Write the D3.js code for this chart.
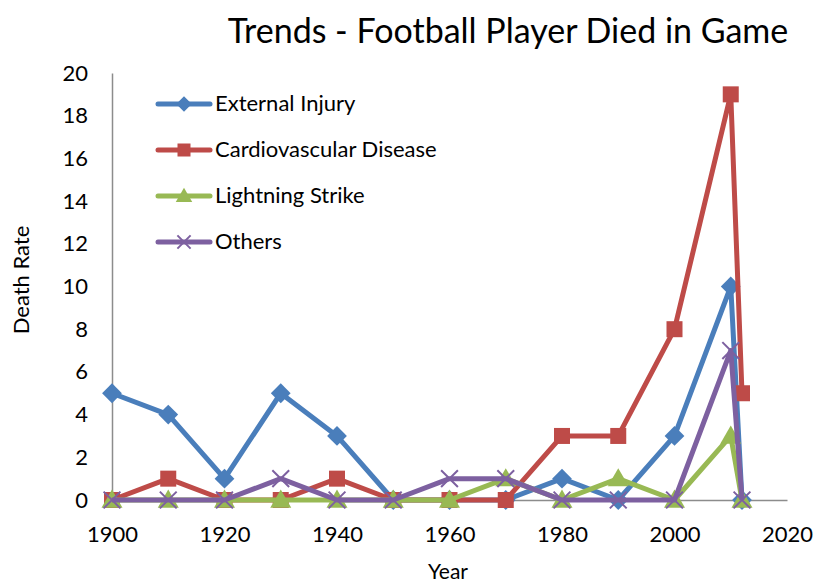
<!DOCTYPE html>
<html>
<head>
<meta charset="utf-8">
<script src="https://cdn.jsdelivr.net/npm/d3@7"></script>
<style>
  body { margin: 0; background: #fff; }
  svg text { font-family: Lato, "Open Sans", sans-serif; fill: #000; }
</style>
</head>
<body>
<svg id="chart" width="816" height="584"></svg>
<script>
// data
const years = [1900, 1910, 1920, 1930, 1940, 1950, 1960, 1970, 1980, 1990, 2000, 2010, 2012];
const externalInjury = [5, 4, 1, 5, 3, 0, 0, 0, 1, 0, 3, 10, 0];
const cardiovascular = [0, 1, 0, 0, 1, 0, 0, 0, 3, 3, 8, 19, 5];
const lightning = [0, 0, 0, 0, 0, 0, 0, 1, 0, 1, 0, 3, 0];
const others = [0, 0, 0, 1, 0, 0, 1, 1, 0, 0, 0, 7, 0];
const seriesNames = ["External Injury", "Cardiovascular Disease", "Lightning Strike", "Others"];
const xTicks = [1900, 1920, 1940, 1960, 1980, 2000, 2020];
const yTicks = [0, 2, 4, 6, 8, 10, 12, 14, 16, 18, 20];

const series = [
  {name: seriesNames[0], values: externalInjury, color: "#4a7ebb", marker: "diamond"},
  {name: seriesNames[1], values: cardiovascular, color: "#be4b48", marker: "square"},
  {name: seriesNames[2], values: lightning, color: "#98b954", marker: "triangle"},
  {name: seriesNames[3], values: others, color: "#7d60a0", marker: "x"}
];

const svg = d3.select("#chart");
const x = d3.scaleLinear().domain([1900, 2020]).range([112, 787]);
const y = d3.scaleLinear().domain([0, 20]).range([500, 73]);

// axes
const xAxis = svg.append("g").attr("transform", `translate(0,${y(0)})`)
  .call(d3.axisBottom(x).tickValues(xTicks).tickFormat(d3.format("d")).tickSize(0).tickPadding(26));
const yAxis = svg.append("g").attr("transform", `translate(${x(1900)},0)`)
  .call(d3.axisLeft(y).tickValues(yTicks).tickSize(0).tickPadding(24));
[xAxis, yAxis].forEach(a => {
  a.select(".domain").attr("stroke", "#8c8c8c").attr("stroke-width", 1.5);
  a.selectAll("text").style("font-size", "22px");
});

svg.append("text").attr("x", 508).attr("y", 43).attr("text-anchor", "middle")
  .style("font-size", "34px").text("Trends - Football Player Died in Game");
svg.append("text").attr("x", 448).attr("y", 579).attr("text-anchor", "middle")
  .style("font-size", "21px").text("Year");
svg.append("text").attr("transform", "translate(29,280) rotate(-90)").attr("text-anchor", "middle")
  .style("font-size", "22px").text("Death Rate");

function drawMarker(g, type, color, s) {
  if (type === "diamond") {
    g.append("path").attr("d", d3.symbol(d3.symbolSquare, s * s)()).attr("transform", "rotate(45)")
      .attr("fill", color);
  } else if (type === "square") {
    g.append("rect").attr("x", -s / 2 - 1).attr("y", -s / 2 - 1).attr("width", s + 2).attr("height", s + 2)
      .attr("fill", color);
  } else if (type === "triangle") {
    g.append("path").attr("d", `M0,${-s * 0.75}L${s * 0.75},${s * 0.55}L${-s * 0.75},${s * 0.55}Z`)
      .attr("fill", color);
  } else {
    const h = s * 0.6;
    g.append("path").attr("d", `M${-h},${-h}L${h},${h}M${-h},${h}L${h},${-h}`)
      .attr("stroke", color).attr("stroke-width", 2);
  }
}

const line = d3.line().x((d, i) => x(years[i])).y(d => y(d));

series.forEach(s => {
  const g = svg.append("g");
  g.append("path").datum(s.values).attr("d", line).attr("fill", "none")
    .attr("stroke", s.color).attr("stroke-width", 5).attr("stroke-linejoin", "round");
  g.selectAll("g.mk").data(s.values).join("g").attr("class", "mk")
    .attr("transform", (d, i) => `translate(${x(years[i])},${y(d)})`)
    .each(function() { drawMarker(d3.select(this), s.marker, s.color, 14); });
});

// legend
const legend = svg.append("g");
series.forEach((s, i) => {
  const ly = 104 + i * 46;
  const g = legend.append("g");
  g.append("line").attr("x1", 158).attr("x2", 210).attr("y1", ly).attr("y2", ly)
    .attr("stroke", s.color).attr("stroke-width", 5).attr("stroke-linecap", "round");
  const m = g.append("g").attr("transform", `translate(184,${ly})`);
  drawMarker(m, s.marker, s.color, 11);
  g.append("text").attr("x", 215).attr("y", ly + 7).style("font-size", "22px").text(s.name);
});
</script>
</body>
</html>
